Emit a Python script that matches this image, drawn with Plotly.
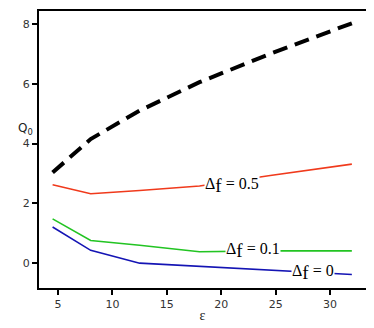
import plotly.graph_objects as go

eps = [4.5, 8, 12.5, 18, 24.5, 32]
q_dashed = [3.03, 4.15, 5.1, 6.05, 7.0, 8.02]
q_d05 = [2.62, 2.32, 2.43, 2.58, 2.93, 3.31]
q_d01 = [1.48, 0.76, 0.6, 0.38, 0.41, 0.41]
eps_d0 = [4.5, 8, 12.5, 18, 26.3, 32]
q_d0 = [1.21, 0.43, 0.0, -0.11, -0.28, -0.38]

labels = [
    ("0.5", 21.0, 2.6),
    ("0.1", 22.9, 0.43),
    ("0", 28.4, -0.32),
]

fig = go.Figure()
fig.add_trace(go.Scatter(x=eps, y=q_dashed, mode="lines",
                         line=dict(color="black", width=4, dash="15px,8px")))
fig.add_trace(go.Scatter(x=eps, y=q_d05, mode="lines",
                         line=dict(color="#f03a1c", width=1.6)))
fig.add_trace(go.Scatter(x=eps, y=q_d01, mode="lines",
                         line=dict(color="#22c422", width=1.6)))
fig.add_trace(go.Scatter(x=eps_d0, y=q_d0, mode="lines",
                         line=dict(color="#1414b4", width=1.6)))

for val, x, y in labels:
    text = "Δ<sub><span style='font-size:19px'>f</span></sub> = " + val
    fig.add_annotation(x=x, y=y, text=text, showarrow=False,
                       bgcolor="white", borderpad=0,
                       font=dict(family="Liberation Serif", size=16, color="black"))

fig.add_annotation(xref="paper", yref="paper", x=-0.07, y=0.575,
                   text="Q<sub>0</sub>", showarrow=False,
                   font=dict(family="DejaVu Sans", size=12, color="#222"))

axis_common = dict(showline=True, linecolor="black", linewidth=2, mirror=True,
                   ticks="outside", ticklen=5, tickwidth=1.5, tickcolor="black",
                   showgrid=False, zeroline=False,
                   tickfont=dict(family="DejaVu Sans", size=11, color="#333"))

# the page body keeps an 8px margin, so the figure is a bit smaller than the window
fig.update_layout(
    width=366, height=320,
    margin=dict(l=31, r=8, t=1, b=40),
    plot_bgcolor="white", paper_bgcolor="white",
    showlegend=False,
    xaxis=dict(range=[3.25, 33.3], tickvals=[5, 10, 15, 20, 25, 30],
               title=dict(text="ε", standoff=0,
                          font=dict(family="Liberation Serif", size=14, color="#222")),
               **axis_common),
    yaxis=dict(range=[-0.83, 8.43], tickvals=[0, 2, 4, 6, 8], **axis_common),
)

fig.write_html("out.html")
